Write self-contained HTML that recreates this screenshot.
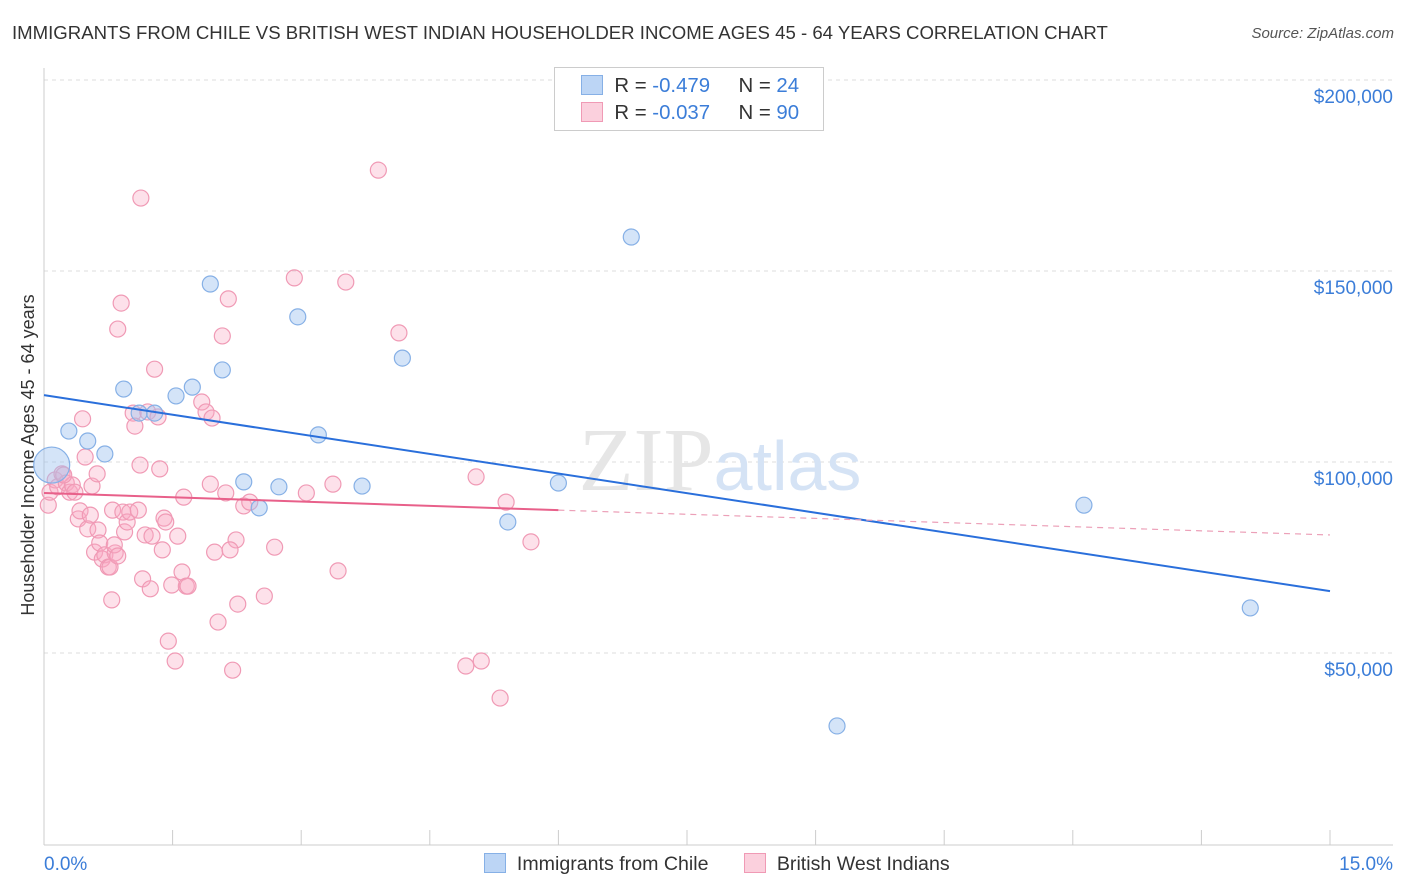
<!DOCTYPE html>
<html><head><meta charset="utf-8"><style>
body{margin:0;background:#fff;font-family:"Liberation Sans",sans-serif;}
#w{position:relative;width:1406px;height:892px;overflow:hidden}
.t{position:absolute;white-space:nowrap}
</style></head><body><div id="w">
<div class="t" style="left:12px;top:22px;font-size:18.6px;color:#333">IMMIGRANTS FROM CHILE VS BRITISH WEST INDIAN HOUSEHOLDER INCOME AGES 45 - 64 YEARS CORRELATION CHART</div>
<div class="t" style="right:12px;top:25px;font-size:15px;color:#555;font-style:italic">Source: ZipAtlas.com</div>
<svg id="s" width="1406" height="892" style="position:absolute;left:0;top:0"></svg>
</div>
<script>
const yTicks=[50000,100000,150000,200000];
const yTickLabels=["$50,000","$100,000","$150,000","$200,000"];
const xTickLabels=["0.0%","15.0%"];
const blueX=[0.09,0.29,0.51,0.71,0.93,1.11,1.29,1.54,1.73,1.94,2.08,2.33,2.51,2.74,2.96,3.20,3.71,4.18,5.41,6.00,6.85,9.25,12.13,14.07];
const blueY=[99.2,108.1,105.5,102.1,119.1,112.8,112.8,117.3,119.6,146.6,124.1,94.8,88.0,93.5,138.0,107.1,93.7,127.2,84.3,94.5,158.9,30.9,88.7,61.8];
const pinkX=[0.05,0.07,0.13,0.16,0.21,0.26,0.30,0.33,0.36,0.40,0.42,0.45,0.48,0.51,0.54,0.56,0.59,0.63,0.65,0.68,0.71,0.75,0.77,0.79,0.80,0.83,0.86,0.90,0.92,0.94,0.97,1.00,1.04,1.06,1.10,1.12,1.13,1.15,1.18,1.21,1.24,1.26,1.29,1.33,1.35,1.38,1.40,1.42,1.45,1.49,1.53,1.56,1.61,1.63,1.66,1.68,1.84,1.89,1.94,1.96,1.99,2.03,2.08,2.12,2.15,2.20,2.24,2.26,2.33,2.40,2.57,2.69,2.92,3.06,3.37,3.43,3.52,3.90,4.14,4.92,5.04,5.10,5.32,5.39,5.68,0.23,0.62,0.82,0.86,2.17];
const pinkY=[88.7,92.1,95.3,93.5,96.9,94.5,92.1,94.0,92.1,85.1,87.2,111.3,101.3,82.5,86.1,93.7,76.4,82.2,78.8,74.6,75.7,72.5,72.5,63.9,87.4,76.2,134.8,141.6,86.9,81.7,84.3,86.9,112.8,109.4,87.4,99.2,169.1,69.4,80.9,113.1,66.8,80.6,124.3,111.8,98.2,77.0,85.3,84.3,53.1,67.8,47.9,80.6,71.2,90.8,67.5,67.5,115.7,113.1,94.2,111.5,76.4,58.1,133.0,91.9,142.7,45.5,79.6,62.8,88.5,89.5,64.9,77.7,148.2,91.9,94.2,71.5,147.1,176.4,133.8,46.6,96.1,47.9,38.2,89.5,79.1,96.6,96.9,78.3,75.4,77.0];
const blueTrend=[[0,117.5],[15,66.2]];
const pinkTrendSolid=[[0,91.9],[6,87.4]];
const pinkTrendDash=[[6,87.4],[15,80.9]];
const X=p=>44+p*(1330-44)/15;
const Y=v=>462-(v-100000)*191/50000;
const Yk=k=>Y(k*1000);
const s=document.getElementById('s');const NS='http://www.w3.org/2000/svg';
function mk(t,a){const e=document.createElementNS(NS,t);for(const k in a)e.setAttribute(k,a[k]);s.appendChild(e);return e;}
yTicks.forEach((v,i)=>{
 let g=mk('line',{x1:44,x2:1393,y1:Y(v),y2:Y(v),stroke:'#ddd','stroke-dasharray':'4,4'});
 
 
 let t=mk('text',{x:1393,y:Y(v)+23,'text-anchor':'end','font-size':19,fill:'#3b7dd8','font-family':'Liberation Sans, sans-serif'});t.textContent=yTickLabels[i];
 
 
});
let a1=mk('line',{x1:44,x2:44,y1:68,y2:845,stroke:'#ccc'});


let a2=mk('line',{x1:44,x2:1393,y1:845,y2:845,stroke:'#ccc'});


for(let i=1;i<=10;i++){let tk=mk('line',{x1:X(i*1.5),x2:X(i*1.5),y1:830,y2:845,stroke:'#ccc'});
 
 }
[[44,'start'],[1393,'end']].forEach((d,i)=>{let t=mk('text',{x:d[0],y:870,'text-anchor':d[1],'font-size':19,fill:'#3b7dd8','font-family':'Liberation Sans, sans-serif'});t.textContent=xTickLabels[i];
 
 });
let yt=mk('text',{x:0,y:0,transform:'translate(34,455) rotate(-90)','text-anchor':'middle','font-size':18,fill:'#333','font-family':'Liberation Sans, sans-serif'});yt.textContent='Householder Income Ages 45 - 64 years';


let wm=mk('text',{x:720,y:490,'text-anchor':'middle','font-size':90,fill:'#e6e6e6','font-family':'Liberation Serif, serif'});wm.innerHTML='ZIP<tspan fill="#d5e3f5" font-family="Liberation Sans, sans-serif" font-size="70">atlas</tspan>';


pinkX.forEach((p,i)=>{let c=mk('circle',{cx:X(p),cy:Yk(pinkY[i]),r:8,fill:'rgba(248,170,195,0.35)',stroke:'#f09ab5','stroke-width':1.2});
 
 });
blueX.forEach((p,i)=>{let c=mk('circle',{cx:X(p),cy:Yk(blueY[i]),r:i==0?18:8,fill:'rgba(160,196,240,0.45)',stroke:'#86b0e6','stroke-width':1.2});
 
 });
let l1=mk('line',{x1:X(blueTrend[0][0]),y1:Yk(blueTrend[0][1]),x2:X(blueTrend[1][0]),y2:Yk(blueTrend[1][1]),stroke:'#2a6fdb','stroke-width':2});


let l2=mk('line',{x1:X(pinkTrendSolid[0][0]),y1:Yk(pinkTrendSolid[0][1]),x2:X(pinkTrendSolid[1][0]),y2:Yk(pinkTrendSolid[1][1]),stroke:'#e8608a','stroke-width':2});


let l3=mk('line',{x1:X(pinkTrendDash[0][0]),y1:Yk(pinkTrendDash[0][1]),x2:X(pinkTrendDash[1][0]),y2:Yk(pinkTrendDash[1][1]),stroke:'#eca0b8','stroke-width':1.2,'stroke-dasharray':'6,5'});


</script>
<div style="position:absolute;left:554px;top:67px;width:268px;height:62px;border:1px solid #ccc;background:#fff;font-size:20.4px;color:#333">
 <div style="position:absolute;left:26px;top:7px;white-space:nowrap"><span style="display:inline-block;width:20px;height:18px;background:#bcd5f5;border:1px solid #86b0e6;vertical-align:-3px"></span>&nbsp; R = <span style="color:#3b7dd8">-0.479</span>&nbsp;&nbsp;&nbsp;&nbsp; N = <span style="color:#3b7dd8">24</span></div>
 <div style="position:absolute;left:26px;top:34px;white-space:nowrap"><span style="display:inline-block;width:20px;height:18px;background:#fbd0dd;border:1px solid #f09ab5;vertical-align:-3px"></span>&nbsp; R = <span style="color:#3b7dd8">-0.037</span>&nbsp;&nbsp;&nbsp;&nbsp; N = <span style="color:#3b7dd8">90</span></div>
</div>
<div style="position:absolute;left:484px;top:853px;font-size:19.6px;color:#333;white-space:nowrap">
 <span><span style="display:inline-block;width:20px;height:18px;background:#bcd5f5;border:1px solid #86b0e6;vertical-align:-3px"></span>&nbsp; Immigrants from Chile</span>
 <span style="margin-left:30px"><span style="display:inline-block;width:20px;height:18px;background:#fbd0dd;border:1px solid #f09ab5;vertical-align:-3px"></span>&nbsp; British West Indians</span>
</div>
</body></html>
